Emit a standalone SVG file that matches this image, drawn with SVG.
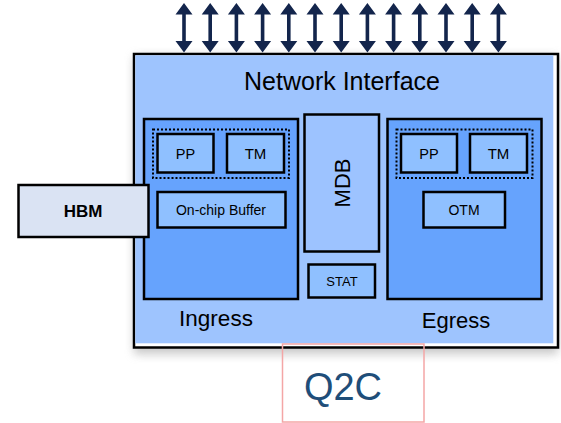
<svg xmlns="http://www.w3.org/2000/svg" width="561" height="423" viewBox="0 0 561 423">
<defs>
<filter id="sh" x="-10%" y="-10%" width="120%" height="130%"><feGaussianBlur stdDeviation="5"/></filter>
<polygon id="arr" points="0,3 8.5,14.5 1.8,14.5 1.8,41 8.5,41 0,52.5 -8.5,41 -1.8,41 -1.8,14.5 -8.5,14.5" fill="#13254c"/>
</defs>
<style>
text{font-family:"Liberation Sans",Arial,sans-serif;fill:#000;text-anchor:middle}
.blk{stroke:#000;stroke-width:2.5}
.mid{fill:#66a3fd}
.inner{fill:#8fc0ff}
.dot{fill:none;stroke:#000;stroke-width:2;stroke-dasharray:2 2}
</style>
<rect width="561" height="423" fill="#fff"/>
<g id="chip">
<rect x="134" y="56" width="424" height="298" fill="#9a9a9a" opacity="0.55" filter="url(#sh)"/>
<rect x="134" y="54" width="424" height="293.5" fill="#fff" stroke="#000" stroke-width="2.5"/>
<rect x="135.3" y="55.3" width="418" height="288" fill="#9ec4fe"/>
<text x="342" y="90" font-size="25">Network Interface</text>
</g>
<g id="ingress">
<rect x="144" y="119" width="154" height="180" class="blk mid"/>
<rect x="153" y="129.5" width="136" height="48.5" class="dot"/>
<text x="216" y="326" font-size="22.5">Ingress</text>
</g>
<g id="ingress-pp"><rect x="157.5" y="134" width="56" height="38.5" class="blk inner"/><text x="185.5" y="158.5" font-size="14.5">PP</text></g>
<g id="ingress-tm"><rect x="227" y="134" width="57" height="38.5" class="blk inner"/><text x="255.5" y="158.5" font-size="15">TM</text></g>
<g id="buffer"><rect x="157.5" y="192" width="128" height="35.5" class="blk inner"/><text x="221" y="214.5" font-size="14">On-chip Buffer</text></g>
<g id="mdb"><rect x="304.5" y="114.5" width="74.5" height="137" class="blk" fill="#9dc3ff"/><text transform="translate(349.5,183) rotate(-90)" font-size="22">MDB</text></g>
<g id="stat"><rect x="308.5" y="264.5" width="66.5" height="33" class="blk inner"/><text x="342" y="286" font-size="13">STAT</text></g>
<g id="egress">
<rect x="387.5" y="119" width="154" height="180" class="blk mid"/>
<rect x="396.5" y="129.5" width="136" height="48.5" class="dot"/>
<text x="456" y="328" font-size="22">Egress</text>
</g>
<g id="egress-pp"><rect x="401" y="134" width="56" height="38.5" class="blk inner"/><text x="429" y="158.5" font-size="14.5">PP</text></g>
<g id="egress-tm"><rect x="470" y="134" width="57" height="38.5" class="blk inner"/><text x="498.5" y="158.5" font-size="15">TM</text></g>
<g id="otm"><rect x="423.5" y="192" width="81.5" height="35.5" class="blk inner"/><text x="464" y="214.5" font-size="14">OTM</text></g>
<g id="hbm"><rect x="18.5" y="185" width="130" height="52" class="blk" fill="#dae3f3"/><text x="83" y="217" font-size="17" font-weight="bold">HBM</text></g>
<g id="connectors">
<use href="#arr" x="184"/><use href="#arr" x="210.2"/><use href="#arr" x="236.4"/><use href="#arr" x="262.6"/><use href="#arr" x="288.8"/><use href="#arr" x="315"/><use href="#arr" x="341.2"/><use href="#arr" x="367.4"/><use href="#arr" x="393.6"/><use href="#arr" x="419.8"/><use href="#arr" x="446"/><use href="#arr" x="472.2"/><use href="#arr" x="498.4"/>
</g>
<g id="q2c"><rect x="282.5" y="344" width="141.5" height="78" fill="none" stroke="#f4a6a6" stroke-width="1.5"/><text x="343" y="400" font-size="38" style="fill:#1f4e79">Q2C</text></g>
</svg>
